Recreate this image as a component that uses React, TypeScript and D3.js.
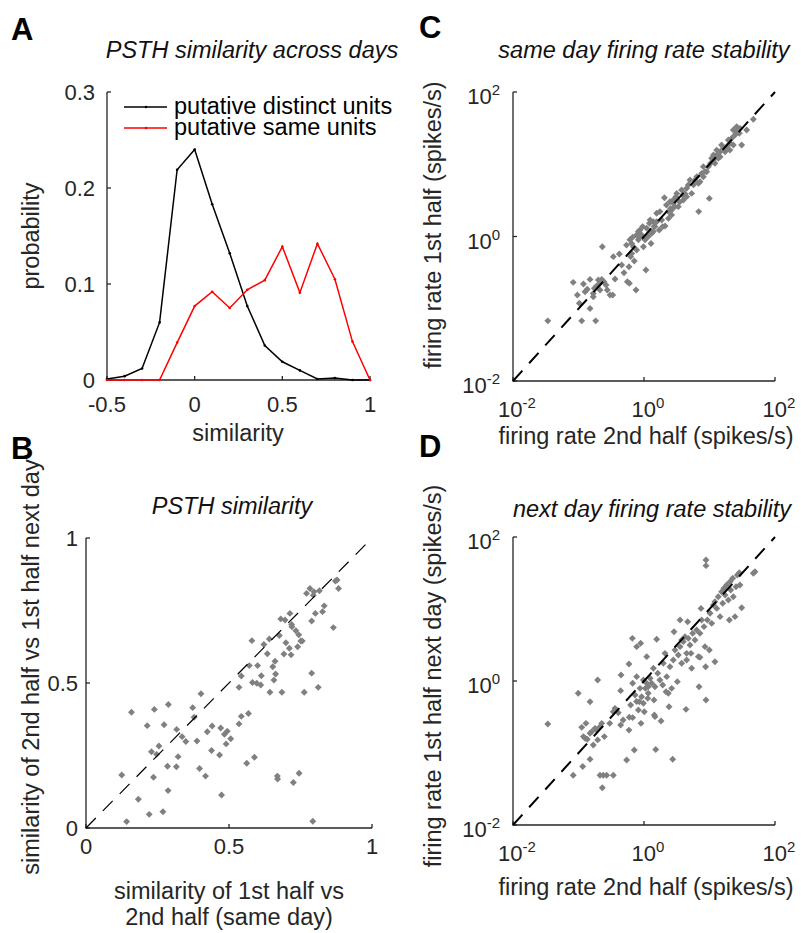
import React, { useRef, useEffect } from "react";
import * as d3 from "d3";

// panel A: similarity histograms
const simBins = [-0.5, -0.4, -0.3, -0.2, -0.1, 0, 0.1, 0.2, 0.3, 0.4, 0.5, 0.6, 0.7, 0.8, 0.9, 1.0];
const distinctProb = [0.001, 0.004, 0.012, 0.06, 0.219, 0.24, 0.183, 0.132, 0.077, 0.036, 0.019, 0.01, 0.001, 0.002, 0, 0];
const sameProb = [0, 0, 0, 0, 0.039, 0.077, 0.092, 0.075, 0.094, 0.104, 0.139, 0.091, 0.142, 0.105, 0.04, 0];
const aXTicks = [-0.5, 0, 0.5, 1];
const aXLabels = ["-0.5", "0", "0.5", "1"];
const aYTicks = [0, 0.1, 0.2, 0.3];
const aYLabels = ["0", "0.1", "0.2", "0.3"];
const legendNames = ["putative distinct units", "putative same units"];

// panel B: PSTH similarity, same day (x) vs next day (y)
const bSameDay = [0.125, 0.159, 0.142, 0.183, 0.214, 0.221, 0.229, 0.239, 0.236, 0.247, 0.255, 0.269, 0.273, 0.285, 0.288, 0.287, 0.316, 0.317, 0.322, 0.336, 0.349, 0.373, 0.378, 0.388, 0.397, 0.402, 0.418, 0.424, 0.439, 0.441, 0.467, 0.471, 0.474, 0.484, 0.49, 0.494, 0.506, 0.535, 0.535, 0.543, 0.543, 0.562, 0.568, 0.571, 0.58, 0.582, 0.589, 0.597, 0.6, 0.611, 0.613, 0.622, 0.634, 0.641, 0.643, 0.653, 0.657, 0.661, 0.663, 0.669, 0.67, 0.676, 0.681, 0.685, 0.696, 0.692, 0.699, 0.713, 0.711, 0.717, 0.719, 0.72, 0.725, 0.734, 0.74, 0.745, 0.744, 0.751, 0.756, 0.763, 0.771, 0.783, 0.789, 0.789, 0.793, 0.797, 0.802, 0.812, 0.816, 0.827, 0.833, 0.865, 0.872, 0.878, 0.883, 0.795];
const bNextDay = [0.183, 0.399, 0.022, 0.099, 0.353, 0.047, 0.263, 0.409, 0.175, 0.254, 0.283, 0.056, 0.356, 0.213, 0.426, 0.129, 0.211, 0.34, 0.246, 0.315, 0.298, 0.415, 0.382, 0.3, 0.205, 0.463, 0.179, 0.332, 0.267, 0.352, 0.252, 0.345, 0.114, 0.323, 0.29, 0.334, 0.308, 0.485, 0.359, 0.385, 0.524, 0.223, 0.395, 0.56, 0.646, 0.502, 0.244, 0.499, 0.56, 0.493, 0.525, 0.633, 0.601, 0.652, 0.468, 0.556, 0.51, 0.575, 0.531, 0.179, 0.169, 0.664, 0.721, 0.468, 0.717, 0.6, 0.639, 0.74, 0.62, 0.597, 0.702, 0.694, 0.157, 0.68, 0.625, 0.189, 0.666, 0.645, 0.645, 0.468, 0.809, 0.826, 0.534, 0.714, 0.023, 0.815, 0.74, 0.485, 0.818, 0.746, 0.766, 0.691, 0.852, 0.855, 0.826, 0.803];
const bTicks = [0, 0.5, 1];
const bLabels = ["0", "0.5", "1"];

// panel C: same day firing rates (spikes/s)
const cSecondHalf = [0.034, 0.083, 0.112, 0.183, 0.103, 0.15, 0.119, 0.15, 0.126, 0.136, 0.168, 0.189, 0.201, 0.213, 0.226, 0.245, 0.168, 0.231, 0.275, 0.333, 0.361, 0.34, 0.42, 0.456, 0.495, 0.557, 0.598, 0.59, 0.625, 0.671, 0.648, 0.711, 0.755, 0.773, 0.82, 0.87, 0.92, 0.98, 1.07, 1.04, 1.1, 1.21, 1.28, 1.39, 1.42, 1.56, 1.71, 1.86, 2.1, 2.05, 2.36, 2.55, 2.64, 2.8, 3.08, 3.34, 3.76, 3.99, 4.48, 5.04, 5.34, 6.84, 7.16, 8.05, 9.06, 9.94, 10.4, 11.5, 12.9, 14.5, 16.3, 18.3, 20.5, 23.1, 26.0, 28.5, 31.0, 46.7, 20.5, 14.5, 8.5, 6.4, 5.7, 4.2, 2.8, 2.2, 1.39, 0.87, 1.16, 0.77, 1.56, 36.9, 24.5, 12.9, 10.8, 3.5, 0.54, 0.65, 0.263, 0.096, 0.61, 0.69, 0.82, 0.955, 1.24, 1.47, 1.93, 2.49, 2.64, 3.16, 3.89, 4.75, 6.0, 6.76, 7.59, 9.6, 12.1, 13.6, 17.3, 19.4, 21.8, 26.0, 29.2, 23.1, 15.3, 11.5, 8.05, 4.48, 2.97, 2.36, 1.75, 1.31, 0.208, 0.175, 0.303];
const cFirstHalf = [0.068, 0.232, 0.068, 0.068, 0.119, 0.101, 0.22, 0.255, 0.172, 0.186, 0.163, 0.206, 0.25, 0.182, 0.255, 0.237, 0.147, 0.72, 0.182, 0.155, 0.258, 0.526, 0.573, 0.403, 0.315, 0.237, 0.225, 0.382, 0.526, 0.98, 0.8, 0.458, 0.182, 0.65, 0.9, 1.23, 1.05, 0.72, 0.344, 0.9, 1.3, 1.52, 0.8, 1.17, 1.37, 1.6, 1.23, 1.69, 1.4, 3.44, 2.21, 2.45, 1.99, 2.88, 3.56, 2.59, 4.4, 3.2, 4.65, 6.05, 3.95, 2.21, 5.74, 6.73, 7.89, 3.37, 10.3, 11.5, 13.4, 14.9, 16.6, 17.5, 19.5, 29.8, 33.1, 26.8, 18.5, 41.9, 15.7, 12.7, 7.9, 6.7, 5.2, 3.95, 3.2, 2.73, 1.6, 1.0, 1.0, 1.05, 2.1, 29.8, 25.4, 15.7, 12.1, 3.0, 0.76, 0.58, 0.213, 0.155, 0.9, 0.72, 1.17, 1.37, 1.69, 1.37, 1.37, 3.03, 2.33, 3.95, 3.75, 5.16, 6.05, 5.44, 7.48, 9.27, 10.3, 12.1, 14.9, 21.7, 22.9, 28.3, 31.4, 18.5, 18.5, 13.4, 9.27, 3.56, 2.59, 1.78, 2.21, 1.11, 0.22, 0.192, 0.155];

// panel D: next day firing rates (spikes/s)
const dSecondHalf = [0.034, 0.083, 0.116, 0.15, 0.213, 0.239, 0.269, 0.34, 0.231, 0.099, 0.15, 0.196, 0.112, 0.13, 0.119, 0.136, 0.159, 0.168, 0.189, 0.196, 0.213, 0.248, 0.226, 0.15, 0.361, 0.34, 0.405, 0.44, 0.446, 0.44, 0.543, 0.597, 0.59, 0.671, 0.625, 0.59, 0.664, 0.711, 0.773, 0.773, 0.89, 0.9, 0.671, 0.73, 0.77, 0.82, 0.87, 0.92, 0.98, 1.01, 1.05, 1.1, 1.1, 1.16, 1.16, 1.24, 1.31, 1.39, 1.42, 1.44, 1.47, 1.51, 1.56, 1.62, 1.75, 1.82, 1.93, 1.97, 2.09, 2.22, 2.35, 2.41, 2.49, 2.64, 2.74, 2.8, 2.87, 2.97, 3.23, 3.34, 3.55, 3.55, 3.76, 3.99, 4.23, 4.38, 4.48, 4.64, 4.75, 5.04, 5.22, 5.53, 6.0, 6.37, 6.76, 6.92, 7.16, 7.16, 7.42, 7.59, 8.24, 8.53, 8.73, 8.84, 8.84, 8.84, 9.27, 9.94, 10.2, 10.8, 11.5, 12.1, 12.1, 12.9, 13.6, 14.5, 15.3, 15.9, 16.6, 17.3, 18.3, 19.4, 20.1, 20.6, 21.1, 22.6, 23.1, 24.5, 25.4, 26.6, 28.5, 29.2, 31.0, 46.7, 49.5, 0.3, 0.48, 0.98, 1.47, 0.85, 1.14, 2.17, 5.34, 4.48, 3.76, 0.179, 0.126];
const dFirstHalfNext = [0.253, 0.049, 0.065, 0.082, 0.049, 0.049, 0.049, 0.049, 0.033, 0.675, 0.516, 1.03, 0.227, 0.258, 0.169, 0.155, 0.198, 0.129, 0.208, 0.152, 0.232, 0.169, 0.258, 0.188, 0.417, 0.375, 0.363, 0.735, 1.21, 0.245, 0.08, 0.313, 0.208, 0.31, 0.465, 1.72, 3.91, 0.11, 3.0, 1.15, 3.34, 0.258, 0.93, 0.64, 0.52, 0.395, 0.79, 0.605, 0.49, 0.375, 0.79, 2.18, 0.93, 0.83, 0.675, 1.09, 0.93, 1.5, 0.545, 0.337, 0.32, 0.112, 3.8, 1.28, 1.03, 0.278, 0.88, 1.76, 2.42, 1.15, 0.675, 0.44, 1.58, 0.79, 0.082, 1.96, 4.84, 2.7, 0.98, 2.3, 7.03, 3.0, 1.76, 3.52, 4.13, 0.404, 1.96, 6.67, 3.91, 3.16, 2.42, 4.59, 3.71, 5.11, 2.18, 0.83, 4.59, 2.13, 10.2, 7.03, 5.69, 3.0, 1.58, 48.0, 40.0, 0.545, 7.03, 2.7, 8.71, 6.32, 11.4, 1.85, 12.6, 10.2, 14.8, 7.83, 17.4, 12.0, 19.4, 15.6, 21.5, 13.3, 7.03, 24.0, 18.4, 26.7, 14.8, 7.83, 20.4, 29.7, 32.0, 21.5, 10.4, 31.3, 33.0, 0.258, 0.287, 1.03, 0.83, 0.516, 0.574, 0.71, 1.5, 2.42, 3.71, 0.22, 0.16];
const logTicks = [0.01, 1, 100];
const logExps = ["-2", "0", "2"];

const FONT = "'Liberation Sans', Arial, Helvetica, sans-serif";
const AX = "#262626";
const FS = 23.5; // labels, titles, legend
const TS = 22; // tick labels

const App = () => {
  const ref = useRef<SVGSVGElement>(null);

  useEffect(() => {
    const svg = d3.select(ref.current);
    svg.selectAll("*").remove();
    svg.attr("font-family", FONT);

    const label = (x: number, y: number, s: string, anchor = "middle", opts: any = {}) => {
      const t = svg
        .append("text")
        .attr("x", x)
        .attr("y", y)
        .attr("text-anchor", anchor)
        .attr("font-size", opts.size || FS)
        .attr("fill", opts.fill || AX)
        .text(s);
      if (opts.italic) t.attr("font-style", "italic");
      if (opts.bold) t.attr("font-weight", "bold");
      if (opts.rotate) t.attr("transform", `rotate(-90, ${x}, ${y})`);
      return t;
    };

    const frame = (x: any, y: any, xt: number[], yt: number[]) => {
      const [x0, x1] = x.range();
      const [y0, y1] = y.range();
      svg
        .append("path")
        .attr("d", `M${x0},${y1}V${y0}H${x1}`)
        .attr("fill", "none")
        .attr("stroke", AX)
        .attr("stroke-width", 1.3);
      xt.forEach((t) =>
        svg.append("line").attr("x1", x(t)).attr("x2", x(t)).attr("y1", y0).attr("y2", y0 - 4)
          .attr("stroke", AX).attr("stroke-width", 1.3)
      );
      yt.forEach((t) =>
        svg.append("line").attr("x1", x0).attr("x2", x0 + 4).attr("y1", y(t)).attr("y2", y(t))
          .attr("stroke", AX).attr("stroke-width", 1.3)
      );
    };

    const powLabel = (x: number, y: number, exp: string, anchor: string) => {
      const t = svg
        .append("text")
        .attr("x", x)
        .attr("y", y)
        .attr("text-anchor", anchor)
        .attr("font-size", TS)
        .attr("fill", AX);
      t.append("tspan").text("10");
      t.append("tspan").attr("dy", -9).attr("font-size", 15).text(exp);
    };

    const diamonds = (xs: number[], ys: number[], x: any, y: any) => {
      const sym = d3.symbol().type(d3.symbolSquare).size(24);
      svg
        .append("g")
        .selectAll("path")
        .data(xs.map((v, i) => [v, ys[i]]))
        .enter()
        .append("path")
        .attr("d", sym)
        .attr("transform", (d) => `translate(${x(d[0])},${y(d[1])}) rotate(45)`)
        .attr("fill", "#808080");
    };

    const diagonal = (x: any, y: any, lo: number, hi: number, w: number) => {
      svg
        .append("line")
        .attr("x1", x(lo)).attr("y1", y(lo))
        .attr("x2", x(hi)).attr("y2", y(hi))
        .attr("stroke", "#000")
        .attr("stroke-width", w)
        .attr("stroke-dasharray", "14,10");
    };

    // ---------- A ----------
    const xA = d3.scaleLinear().domain([-0.5, 1]).range([107, 370]);
    const yA = d3.scaleLinear().domain([0, 0.3]).range([380, 92]);
    frame(xA, yA, aXTicks, aYTicks);
    aXTicks.forEach((t, i) => label(xA(t), 412, aXLabels[i], "middle", { size: TS }));
    aYTicks.forEach((t, i) => label(95, yA(t) + 8, aYLabels[i], "end", { size: TS }));

    const line = d3.line<number>().x((d, i) => xA(simBins[i])).y((d) => yA(d));
    [
      [distinctProb, "#000"],
      [sameProb, "#ff0000"],
    ].forEach(([vals, col]: any) => {
      svg.append("path").attr("d", line(vals)).attr("fill", "none").attr("stroke", col).attr("stroke-width", 1.5);
      svg.append("g").selectAll("circle").data(vals).enter().append("circle")
        .attr("cx", (d, i) => xA(simBins[i])).attr("cy", (d: any) => yA(d)).attr("r", 1.3).attr("fill", col);
    });

    // legend
    [["#000", 107, 114], ["#ff0000", 128, 135]].forEach(([col, ly, ty]: any, i) => {
      svg.append("line").attr("x1", 124).attr("x2", 167).attr("y1", ly).attr("y2", ly).attr("stroke", col).attr("stroke-width", 1.3);
      svg.append("circle").attr("cx", 146).attr("cy", ly).attr("r", 1.3).attr("fill", col);
      label(174, ty, legendNames[i], "start", { fill: "#000" });
    });

    label(238, 441, "similarity");
    label(39, 236, "probability", "middle", { rotate: true });
    label(252, 58, "PSTH similarity across days", "middle", { italic: true, fill: "#111" });
    label(11, 40, "A", "start", { bold: true, size: 31, fill: "#000" });

    // ---------- B ----------
    const xB = d3.scaleLinear().domain([0, 1]).range([86, 372]);
    const yB = d3.scaleLinear().domain([0, 1]).range([828, 538]);
    frame(xB, yB, bTicks, bTicks);
    bTicks.forEach((t, i) => label(xB(t), 854, bLabels[i], "middle", { size: TS }));
    bTicks.forEach((t, i) => label(78, yB(t) + 8, bLabels[i], "end", { size: TS }));
    diamonds(bSameDay, bNextDay, xB, yB);
    diagonal(xB, yB, 0, 1, 1.2);
    label(229, 899, "similarity of 1st half vs");
    label(229, 925, "2nd half (same day)");
    label(39, 667, "similarity of 2nd half vs 1st half next day", "middle", { rotate: true });
    label(232, 514, "PSTH similarity", "middle", { italic: true, fill: "#111" });
    label(11, 459, "B", "start", { bold: true, size: 31, fill: "#000" });

    // ---------- C & D ----------
    const panels = [
      { xs: cSecondHalf, ys: cFirstHalf, top: 92, bottom: 381, xl: 444, yl: "firing rate 1st half (spikes/s)", ylc: 225,
        title: "same day firing rate stability", tx: 644, ty: 58, letter: "C", ly: 38 },
      { xs: dSecondHalf, ys: dFirstHalfNext, top: 537, bottom: 825, xl: 895, yl: "firing rate 1st half next day (spikes/s)", ylc: 676,
        title: "next day firing rate stability", tx: 652, ty: 517, letter: "D", ly: 457 },
    ];
    panels.forEach((p) => {
      const x = d3.scaleLog().domain([0.01, 100]).range([513, 775]);
      const y = d3.scaleLog().domain([0.01, 100]).range([p.bottom, p.top]);
      frame(x, y, logTicks, logTicks);
      logTicks.forEach((t, i) => powLabel(x(t) + 4, p.bottom + 36, logExps[i], "middle"));
      logTicks.forEach((t, i) => powLabel(500, y(t) + 12, logExps[i], "end"));
      diamonds(p.xs, p.ys, x, y);
      diagonal(x, y, 0.01, 100, 2);
      label(646, p.xl, "firing rate 2nd half (spikes/s)");
      label(441, p.ylc, p.yl, "middle", { rotate: true });
      label(p.tx, p.ty, p.title, "middle", { italic: true, fill: "#111" });
      label(419, p.ly, p.letter, "start", { bold: true, size: 31, fill: "#000" });
    });
  }, []);

  return (
    <svg
      ref={ref}
      width={801}
      height={933}
      style={{ position: "absolute", left: 0, top: 0, background: "#fff" }}
    ></svg>
  );
};

export default App;
